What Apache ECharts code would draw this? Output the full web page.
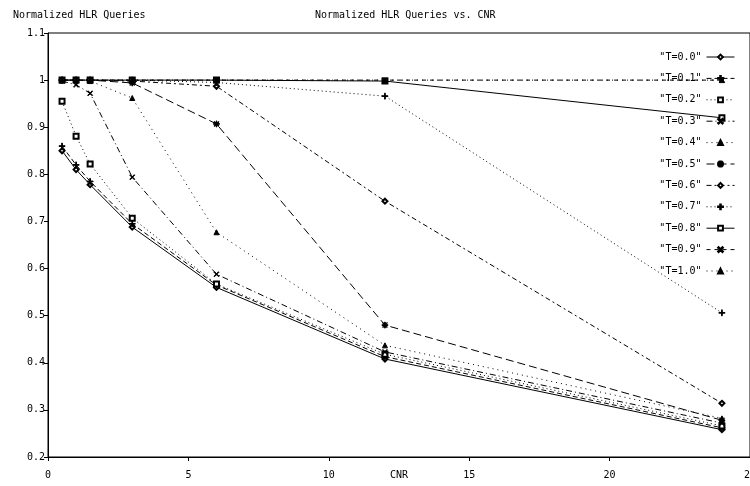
<!DOCTYPE html>
<html>
<head>
<meta charset="utf-8">
<script src="https://cdn.jsdelivr.net/npm/echarts@6/dist/echarts.min.js"></script>
<style>
  html, body { margin: 0; padding: 0; background: #fff; }
  #main { width: 750px; height: 486px; }
</style>
</head>
<body>
<div id="main"></div>
<script>
// CNR values on the x axis
var cnr = [0.5, 1, 1.5, 3, 6, 12, 24];

// normalized HLR queries, one list per threshold
var t00 = [0.850, 0.810, 0.778, 0.688, 0.560, 0.408, 0.258];
var t01 = [0.860, 0.820, 0.785, 0.695, 0.565, 0.413, 0.262];
var t02 = [0.955, 0.881, 0.822, 0.707, 0.567, 0.418, 0.266];
var t03 = [0.998, 0.990, 0.972, 0.794, 0.588, 0.423, 0.272];
var t04 = [1.000, 1.000, 0.998, 0.962, 0.677, 0.437, 0.282];
var t05 = [1.000, 1.000, 1.000, 0.994, 0.907, 0.480, 0.278];
var t06 = [1.000, 1.000, 1.000, 0.998, 0.987, 0.743, 0.314];
var t07 = [1.000, 1.000, 1.000, 1.000, 0.995, 0.966, 0.506];
var t08 = [1.000, 1.000, 1.000, 1.000, 1.000, 0.998, 0.920];
var t09 = [1.000, 1.000, 1.000, 1.000, 1.000, 1.000, 1.000];
var t10 = [1.000, 1.000, 1.000, 1.000, 1.000, 1.000, 1.000];

var seriesNames = ['"T=0.0"', '"T=0.1"', '"T=0.2"', '"T=0.3"', '"T=0.4"', '"T=0.5"',
                   '"T=0.6"', '"T=0.7"', '"T=0.8"', '"T=0.9"', '"T=1.0"'];
var seriesValues = [t00, t01, t02, t03, t04, t05, t06, t07, t08, t09, t10];

// gnuplot style point marks
var PLUS = 'path://M4.4,0H5.6V10H4.4ZM0,4.4H10V5.6H0Z';
var CROSS = 'path://M0,1L1,0L10,9L9,10ZM9,0L10,1L1,10L0,9Z';
var STAR = 'path://M4.4,0H5.6V10H4.4ZM0,4.4H10V5.6H0ZM0.8,1.6L1.6,0.8L9.2,8.4L8.4,9.2ZM8.4,0.8L9.2,1.6L1.6,9.2L0.8,8.4Z';

var styles = [
	{ dash: 'solid',        symbol: 'emptyDiamond', size: 5 },
	{ dash: [5, 3],         symbol: PLUS,           size: 6 },
	{ dash: [1, 3],         symbol: 'emptyRect',    size: 5 },
	{ dash: [6, 3, 1, 3],   symbol: CROSS,          size: 5 },
	{ dash: [1, 4],         symbol: 'triangle',     size: 5 },
	{ dash: [8, 4],         symbol: STAR,           size: 6 },
	{ dash: [5, 3, 2, 3],   symbol: 'emptyDiamond', size: 5 },
	{ dash: [1, 3],         symbol: PLUS,           size: 6 },
	{ dash: 'solid',        symbol: 'emptyRect',    size: 5 },
	{ dash: [4, 4],         symbol: CROSS,          size: 5 },
	{ dash: [1, 4],         symbol: 'triangle',     size: 5 }
];

var seriesData = [];
for (var i = 0; i < seriesNames.length; i++) {
	var pts = [];
	for (var j = 0; j < cnr.length; j++) {
		pts.push([cnr[j], seriesValues[i][j]]);
	}
	seriesData.push({
		name: seriesNames[i],
		type: 'line',
		data: pts,
		symbol: styles[i].symbol,
		symbolSize: styles[i].size,
		showAllSymbol: true,
		animation: false,
		lineStyle: { color: '#000', width: 1, type: styles[i].dash },
		itemStyle: { color: '#000', borderColor: '#000', borderWidth: 1 }
	});
}

var font = 'DejaVu Sans Mono';
var myChart = echarts.init(document.getElementById('main'), null, { renderer: 'canvas' });
var option = {
	backgroundColor: '#fff',
	textStyle: { fontFamily: font, color: '#000' },
	title: [
		{ text: 'Normalized HLR Queries', left: 8, top: 5,
		  textStyle: { fontFamily: font, fontSize: 10, fontWeight: 'normal', color: '#000' } },
		{ text: 'Normalized HLR Queries vs. CNR', left: 310, top: 5,
		  textStyle: { fontFamily: font, fontSize: 10, fontWeight: 'normal', color: '#000' } }
	],
	legend: {
		orient: 'vertical',
		right: 10,
		top: 46,
		align: 'right',
		itemWidth: 28,
		itemHeight: 6,
		itemGap: 9.4,
		lineStyle: { width: 1 },
		textStyle: { fontFamily: font, fontSize: 10, lineHeight: 12, color: '#000' },
		data: seriesNames
	},
	grid: {
		left: 48,
		right: 0,
		top: 33,
		bottom: 29,
		outerBoundsMode: 'none',
		containLabel: false,
		show: true,
		borderColor: '#000',
		borderWidth: 1
	},
	xAxis: {
		type: 'value',
		min: 0,
		max: 25,
		interval: 5,
		name: 'CNR',
		nameLocation: 'middle',
		nameGap: 13,
		nameMoveOverlap: false,
		nameTextStyle: { fontFamily: font, fontSize: 10, color: '#000', verticalAlign: 'top' },
		axisLine: { lineStyle: { color: '#000', width: 1 } },
		axisTick: { length: 4, lineStyle: { color: '#000' } },
		axisLabel: { fontFamily: font, fontSize: 10, color: '#000', margin: 13 },
		splitLine: { show: false }
	},
	yAxis: {
		type: 'value',
		min: 0.2,
		max: 1.1,
		interval: 0.1,
		axisLine: { show: true, lineStyle: { color: '#000', width: 1 } },
		axisTick: { show: true, length: 4, lineStyle: { color: '#000' } },
		axisLabel: {
			fontFamily: font, fontSize: 10, color: '#000', margin: 3,
			formatter: function (v) { return String(+v.toFixed(1)); }
		},
		splitLine: { show: false }
	},
	series: seriesData
};
myChart.setOption(option);
</script>
</body>
</html>
